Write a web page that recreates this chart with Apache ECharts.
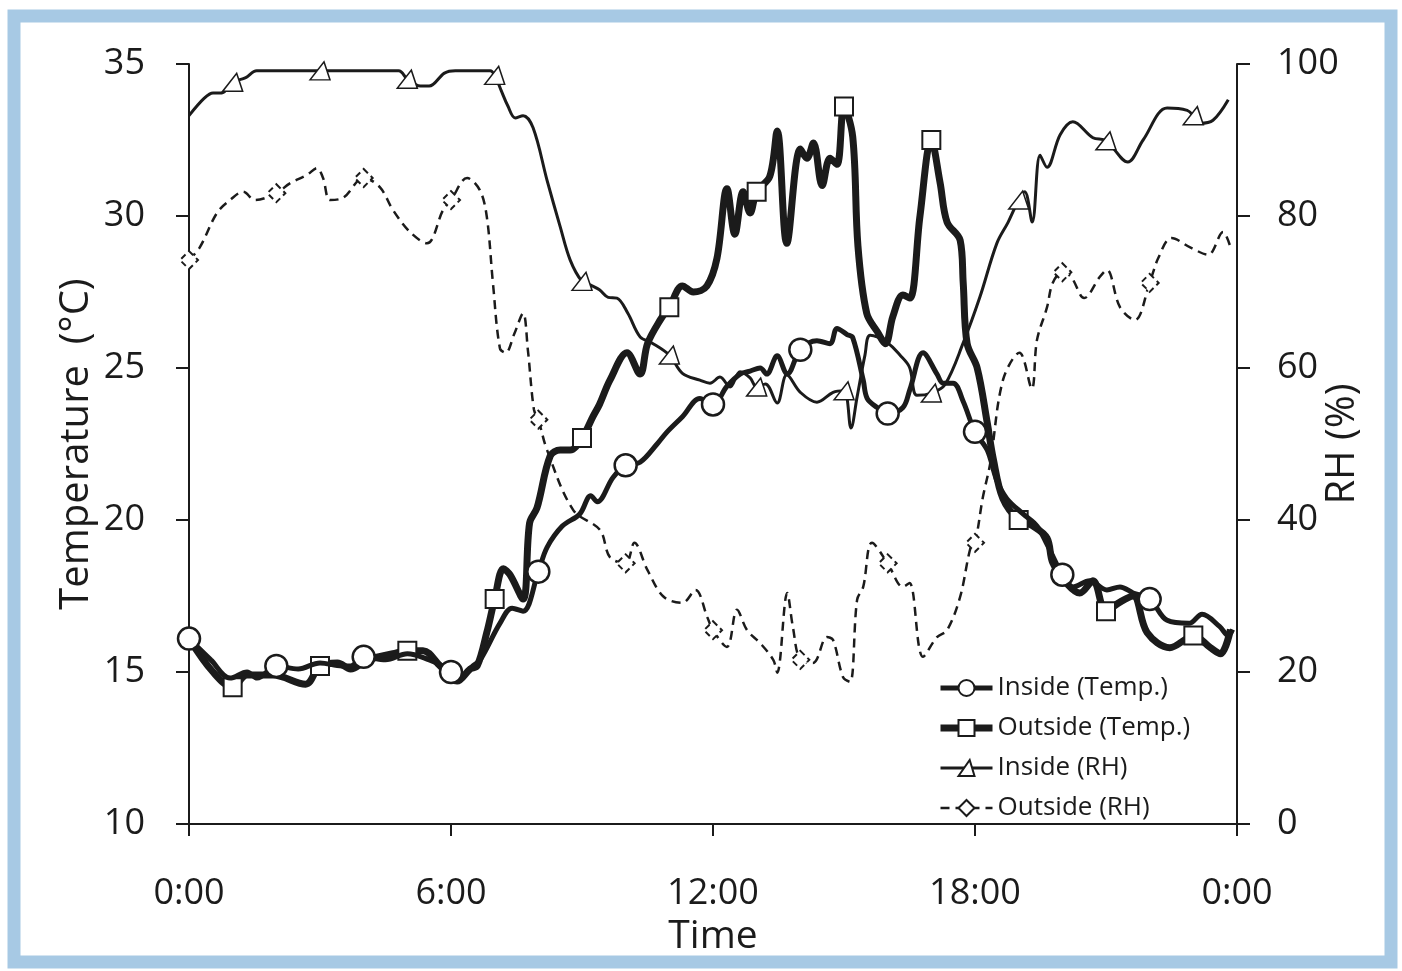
<!DOCTYPE html>
<html>
<head>
<meta charset="utf-8">
<title>Temperature and RH</title>
<script src="https://cdn.jsdelivr.net/npm/echarts@6/dist/echarts.min.js"></script>
<style>
  html, body { margin: 0; padding: 0; background: #fff; }
  #main { width: 1402px; height: 971px; }
</style>
</head>
<body>
<div id="main"></div>
<script>
// time in hours (0-24)
const insideTempHours = [0, 0.5, 0.94, 1.33, 1.56, 2, 2.5, 3, 3.5, 3.7, 4, 4.5, 5, 5.5, 5.8, 6, 6.1, 6.5, 6.67, 7.12, 7.4, 7.65, 8, 8.2, 8.55, 8.95, 9.2, 9.35, 9.71, 10, 10.33, 10.72, 10.95, 11.3, 11.7, 12, 12.32, 12.62, 12.85, 13.08, 13.23, 13.47, 13.7, 14, 14.38, 14.68, 14.84, 15.07, 15.2, 15.44, 15.53, 15.76, 16, 16.35, 16.51, 16.81, 17.13, 17.27, 17.5, 17.73, 18, 18.28, 18.5, 18.73, 19.1, 19.42, 19.65, 20, 20.24, 20.63, 21.02, 21.32, 21.62, 22, 22.4, 22.9, 23.2, 23.6, 23.8, 23.9];
const insideTemp = [16.1, 15.4, 14.8, 15.0, 14.8, 15.2, 15.1, 15.3, 15.2, 15.2, 15.5, 15.4, 15.6, 15.4, 15.2, 15.0, 14.7, 15.2, 15.4, 16.6, 17.1, 17.0, 18.3, 19.1, 19.8, 20.2, 20.8, 20.6, 21.4, 21.8, 21.9, 22.5, 22.9, 23.4, 24.0, 23.8, 24.4, 24.8, 24.9, 25.0, 24.8, 25.4, 24.8, 25.6, 25.9, 25.8, 26.3, 26.1, 26.0, 24.6, 24.0, 23.7, 23.5, 23.7, 24.3, 25.5, 24.8, 24.5, 24.5, 23.9, 22.9, 22.3, 21.3, 20.7, 20.2, 19.8, 19.2, 18.2, 17.8, 18.0, 17.7, 17.8, 17.6, 17.4, 16.7, 16.6, 16.9, 16.5, 16.2, 16.4];

const outsideTempHours = [0, 0.55, 1, 1.33, 1.92, 2.67, 3, 3.4, 3.7, 4.08, 4.67, 5, 5.36, 5.75, 6.14, 6.44, 6.6, 6.82, 7, 7.2, 7.35, 7.65, 7.8, 7.97, 8.27, 8.5, 8.73, 9, 9.25, 9.4, 9.64, 10.03, 10.33, 10.5, 10.8, 11, 11.3, 11.55, 11.86, 12.09, 12.32, 12.5, 12.69, 12.85, 13, 13.3, 13.47, 13.69, 14, 14.15, 14.3, 14.5, 14.68, 14.84, 15, 15.2, 15.32, 15.52, 15.76, 15.95, 16.12, 16.35, 16.51, 16.74, 17, 17.2, 17.36, 17.66, 17.73, 17.82, 18.05, 18.28, 18.42, 18.64, 19, 19.33, 19.65, 19.78, 20.11, 20.4, 20.7, 21, 21.32, 21.62, 21.94, 22.46, 22.85, 23, 23.39, 23.62, 23.85];
const outsideTemp = [16.1, 15.0, 14.5, 14.9, 14.9, 14.6, 15.2, 15.3, 15.1, 15.4, 15.6, 15.7, 15.7, 15.2, 14.7, 15.1, 15.2, 16.3, 17.4, 18.4, 18.2, 17.4, 19.9, 20.4, 22.1, 22.3, 22.3, 22.7, 23.4, 23.8, 24.6, 25.5, 24.8, 25.8, 26.6, 27.0, 27.7, 27.5, 27.7, 28.6, 30.9, 29.4, 30.8, 30.1, 30.8, 31.3, 32.8, 29.1, 32.2, 31.9, 32.4, 31.0, 31.9, 31.7, 33.6, 32.6, 29.0, 26.8, 26.2, 25.8, 26.7, 27.4, 27.3, 30.0, 32.5, 31.1, 29.8, 29.2, 27.8, 25.8, 25.0, 23.2, 22.0, 20.7, 20.0, 19.8, 19.4, 18.6, 17.9, 17.6, 18.0, 17.0, 17.3, 17.5, 16.3, 15.8, 16.1, 16.2, 15.8, 15.6, 16.4];

const insideRhHours = [0, 0.35, 0.55, 0.75, 1, 1.3, 1.55, 3, 4.8, 5, 5.3, 5.5, 5.85, 6.1, 6.9, 7, 7.15, 7.3, 7.47, 7.65, 7.88, 8.2, 8.5, 8.73, 9, 9.2, 9.4, 9.6, 9.8, 10.05, 10.33, 10.6, 11, 11.3, 11.7, 11.93, 12.16, 12.39, 12.62, 12.85, 13, 13.2, 13.47, 13.69, 14, 14.38, 14.75, 15, 15.16, 15.3, 15.48, 15.6, 16, 16.28, 16.5, 16.67, 17, 17.31, 17.73, 18.11, 18.5, 18.76, 19, 19.14, 19.31, 19.49, 19.65, 19.95, 20.24, 20.7, 21, 21.5, 21.85, 22.4, 22.86, 23, 23.15, 23.45, 23.8];
const insideRh = [93.2, 95.5, 96.2, 96.2, 97.6, 98.2, 99.1, 99.1, 99.1, 98.0, 97.1, 97.1, 98.8, 99.1, 99.1, 98.5, 96.5, 94.5, 92.9, 93.2, 91.6, 84.7, 78.6, 74.2, 71.4, 70.9, 70.3, 69.3, 69.2, 67.2, 64.1, 63.3, 61.7, 59.3, 58.4, 58.0, 58.8, 57.5, 59.5, 58.7, 57.5, 57.9, 55.4, 59.1, 56.8, 55.5, 56.8, 57.0, 52.1, 56.2, 61.7, 64.3, 63.3, 61.7, 60.1, 56.4, 56.7, 57.8, 63.3, 69.3, 76.4, 79.2, 82.1, 83.2, 79.2, 88.0, 86.4, 90.7, 92.4, 90.3, 89.9, 87.1, 90.0, 94.2, 93.9, 93.2, 92.2, 92.6, 95.3];

const outsideRhHours = [0, 0.25, 0.64, 0.94, 1.24, 1.51, 2, 2.31, 2.7, 2.93, 3.07, 3.23, 3.53, 4, 4.37, 4.67, 5.06, 5.45, 5.82, 6, 6.37, 6.66, 6.82, 6.96, 7.12, 7.25, 7.45, 7.65, 7.76, 7.9, 8, 8.2, 8.8, 9.41, 9.64, 10, 10.2, 10.5, 10.87, 11.3, 11.6, 11.87, 12, 12.32, 12.55, 12.78, 13.08, 13.38, 13.47, 13.7, 13.83, 14, 14.29, 14.61, 14.75, 14.98, 15.14, 15.3, 15.44, 15.64, 16, 16.35, 16.5, 16.81, 17.13, 17.36, 17.66, 17.9, 18, 18.18, 18.35, 18.64, 19.02, 19.3, 19.42, 19.65, 19.78, 20, 20.2, 20.5, 20.86, 21.02, 21.32, 21.66, 22, 22.2, 22.5, 22.95, 23.34, 23.68, 23.85];
const outsideRh = [74.2, 75.9, 80.4, 82.1, 83.2, 82.1, 83.0, 84.3, 85.4, 86.3, 85.0, 82.1, 82.4, 85.0, 83.8, 80.8, 77.9, 76.4, 80.8, 82.1, 85.0, 83.4, 79.9, 71.2, 62.6, 62.0, 64.5, 67.2, 62.4, 54.5, 53.2, 49.2, 41.3, 38.7, 35.1, 34.3, 37.0, 33.4, 29.9, 29.1, 30.8, 27.2, 25.5, 23.3, 28.2, 25.5, 23.8, 21.6, 19.9, 30.4, 25.9, 21.6, 21.2, 24.6, 24.2, 19.3, 18.7, 29.5, 31.2, 37.0, 34.3, 31.2, 31.7, 22.0, 24.6, 25.5, 29.9, 36.4, 37.0, 43.0, 47.5, 58.4, 62.0, 57.3, 63.7, 68.0, 71.2, 72.6, 72.0, 69.2, 72.0, 72.9, 68.0, 66.3, 71.2, 74.5, 77.1, 75.8, 74.9, 77.9, 75.9];

// hours where a marker is drawn on each line
const insideTempMarks = [0, 2, 4, 6, 8, 10, 12, 14, 16, 18, 20, 22];
const outsideTempMarks = [1, 3, 5, 7, 9, 11, 13, 15, 17, 19, 21, 23];
const insideRhMarks = [1, 3, 5, 7, 9, 11, 13, 15, 17, 19, 21, 23];
const outsideRhMarks = [0, 2, 4, 6, 8, 10, 12, 14, 16, 18, 20, 22];

const seriesNames = ['Inside (Temp.)', 'Outside (Temp.)', 'Inside (RH)', 'Outside (RH)'];
const lineWidths = [5, 7, 3, 2.5];

const ink = '#1b1b1b';
const font = 'Open Sans';

function build(hours, values, marks) {
    return hours.map(function (h, i) {
        if (marks.indexOf(h) >= 0) {
            return { value: [h, values[i]] };
        }
        return { value: [h, values[i]], symbol: 'none' };
    });
}

let myChart = echarts.init(document.getElementById('main'));
let option;

option = {
    backgroundColor: '#ffffff',
    animation: false,
    graphic: [
        {
            type: 'rect',
            shape: { x: 14, y: 16, width: 1377, height: 946 },
            style: { fill: 'none', stroke: '#a7c9e4', lineWidth: 13 },
            silent: true
        }
    ],
    grid: {
        left: 189,
        right: 165,
        top: 64,
        bottom: 147
    },
    legend: {
        orient: 'vertical',
        left: 932,
        top: 670,
        itemGap: 14,
        itemWidth: 52,
        itemHeight: 20,
        textStyle: { fontFamily: font, fontSize: 26, color: ink },
        data: seriesNames.map(function (n, i) {
            return { name: n, lineStyle: { width: lineWidths[i] } };
        })
    },
    xAxis: {
        type: 'value',
        min: 0,
        max: 24,
        interval: 6,
        name: 'Time',
        nameLocation: 'middle',
        nameGap: 92,
        nameTextStyle: { fontFamily: font, fontSize: 39, color: ink },
        axisLine: { onZero: false, lineStyle: { color: ink, width: 2 } },
        axisTick: { length: 12, lineStyle: { color: ink, width: 2 } },
        axisLabel: {
            margin: 52,
            fontFamily: font,
            fontSize: 36,
            color: ink,
            formatter: function (v) { return (v % 24) + ':00'; }
        },
        splitLine: { show: false }
    },
    yAxis: [
        {
            type: 'value',
            min: 10,
            max: 35,
            interval: 5,
            position: 'left',
            name: 'Temperature  (°C)',
            nameLocation: 'middle',
            nameRotate: 90,
            nameGap: 92,
            nameMoveOverlap: false,
            nameTextStyle: { fontFamily: font, fontSize: 40, color: ink },
            axisLine: { show: true, onZero: false, lineStyle: { color: ink, width: 2 } },
            axisTick: { show: true, length: 13, lineStyle: { color: ink, width: 2 } },
            axisLabel: { margin: 44, fontFamily: font, fontSize: 36, color: ink },
            splitLine: { show: false }
        },
        {
            type: 'value',
            min: 0,
            max: 100,
            interval: 20,
            position: 'right',
            name: 'RH (%)',
            nameLocation: 'middle',
            nameRotate: 90,
            nameGap: 86,
            nameMoveOverlap: false,
            nameTextStyle: { fontFamily: font, fontSize: 40, color: ink },
            axisLine: { show: true, onZero: false, lineStyle: { color: ink, width: 2 } },
            axisTick: { show: true, length: 13, lineStyle: { color: ink, width: 2 } },
            axisLabel: { margin: 40, fontFamily: font, fontSize: 36, color: ink },
            splitLine: { show: false }
        }
    ],
    series: [
        {
            name: seriesNames[0],
            type: 'line',
            yAxisIndex: 0,
            smooth: 0.35,
            symbol: 'circle',
            symbolSize: 22,
            z: 4,
            lineStyle: { color: ink, width: lineWidths[0] },
            itemStyle: { color: '#ffffff', borderColor: ink, borderWidth: 2.5 },
            data: build(insideTempHours, insideTemp, insideTempMarks)
        },
        {
            name: seriesNames[1],
            type: 'line',
            yAxisIndex: 0,
            smooth: 0.35,
            symbol: 'rect',
            symbolSize: 18,
            z: 3,
            lineStyle: { color: ink, width: lineWidths[1] },
            itemStyle: { color: '#ffffff', borderColor: ink, borderWidth: 2 },
            data: build(outsideTempHours, outsideTemp, outsideTempMarks)
        },
        {
            name: seriesNames[2],
            type: 'line',
            yAxisIndex: 1,
            smooth: 0.35,
            symbol: 'path://M0,12 L7,0 L10,12 Z',
            symbolSize: [20, 18],
            z: 2,
            lineStyle: { color: ink, width: lineWidths[2] },
            itemStyle: { color: '#ffffff', borderColor: ink, borderWidth: 1.5 },
            data: build(insideRhHours, insideRh, insideRhMarks)
        },
        {
            name: seriesNames[3],
            type: 'line',
            yAxisIndex: 1,
            smooth: 0.35,
            symbol: 'diamond',
            symbolSize: 18,
            z: 2,
            lineStyle: { color: ink, width: lineWidths[3], type: [9, 6] },
            itemStyle: { color: '#ffffff', borderColor: ink, borderWidth: 2, borderType: [6, 4] },
            data: build(outsideRhHours, outsideRh, outsideRhMarks)
        }
    ]
};

option && myChart.setOption(option);
</script>
</body>
</html>
